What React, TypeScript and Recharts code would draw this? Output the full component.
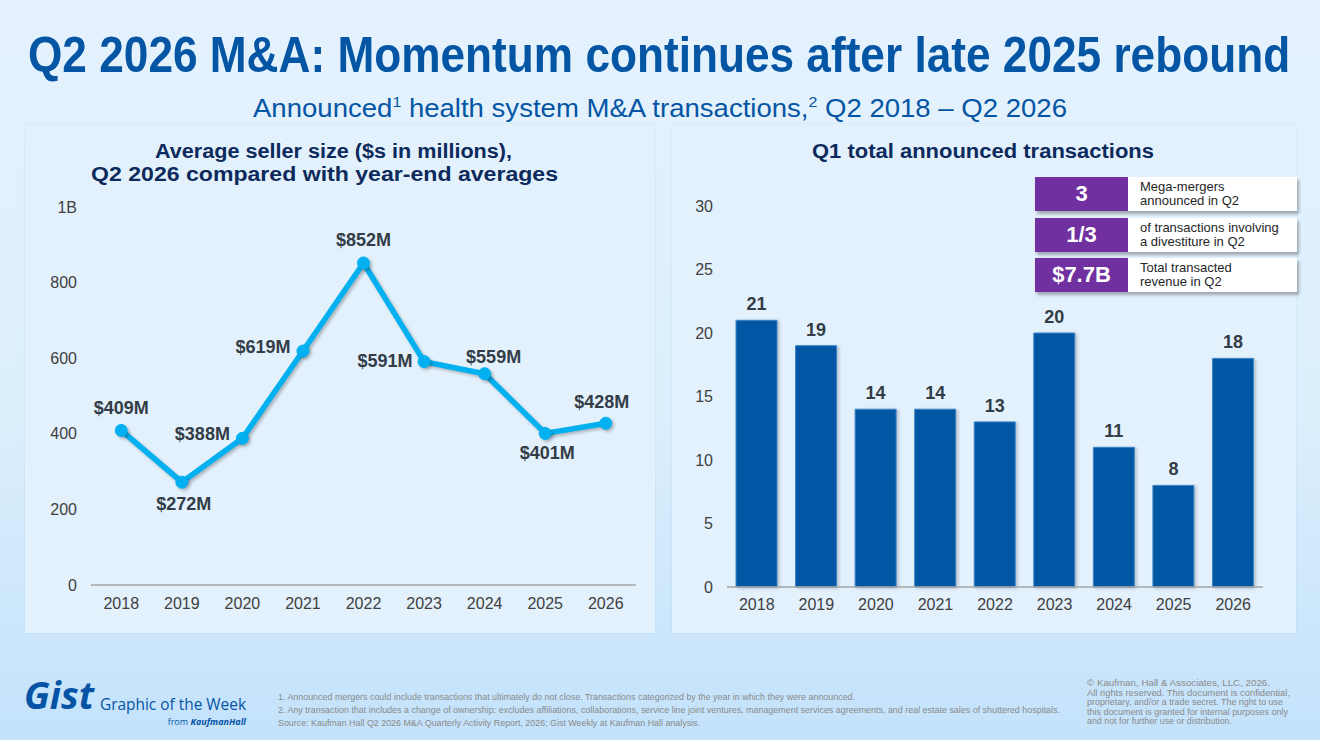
import React from 'react';
import { LineChart, Line, BarChart, Bar, XAxis, YAxis, LabelList } from 'recharts';

const years = ['2018', '2019', '2020', '2021', '2022', '2023', '2024', '2025', '2026'];
const avgSellerSize = [409, 272, 388, 619, 852, 591, 559, 401, 428];
const totalTransactions = [21, 19, 14, 14, 13, 20, 11, 8, 18];
const sizeTicks = [0, 200, 400, 600, 800, 1000];
const countTicks = [0, 5, 10, 15, 20, 25, 30];
const sizeLabelOffsets: [number, number][] = [
  [0, -23], [2, 22], [-40, -5], [-40, -4], [0, -23], [-39, -1], [9, -17], [2, 19], [-4, -22],
];
const statValues = ['3', '1/3', '$7.7B'];
const statLines = [
  ['Mega-mergers', 'announced in Q2'],
  ['of transactions involving', 'a divestiture in Q2'],
  ['Total transacted', 'revenue in Q2'],
];
const footnotes = [
  '1. Announced mergers could include transactions that ultimately do not close. Transactions categorized by the year in which they were announced.',
  '2. Any transaction that includes a change of ownership: excludes affiliations, collaborations, service line joint ventures, management services agreements, and real estate sales of shuttered hospitals.',
  'Source: Kaufman Hall Q2 2026 M&A Quarterly Activity Report, 2026; Gist Weekly at Kaufman Hall analysis.',
];
const copyrightLines = [
  '\u00A9 Kaufman, Hall & Associates, LLC, 2026.',
  'All rights reserved. This document is confidential,',
  'proprietary, and/or a trade secret. The right to use',
  'this document is granted for internal purposes only',
  'and not for further use or distribution.',
];

const sizeData = years.map((y, i) => ({ year: y, value: avgSellerSize[i] }));
const countData = years.map((y, i) => ({ year: y, value: totalTransactions[i] }));

const FONT = '"Liberation Sans", Arial, sans-serif';
const BLUE = '#0455a4';
const NAVY = '#0d2a5c';
const TICK = { fill: '#404040', fontSize: 16, fontFamily: FONT };

const SizeLabel = (props: any) => {
  const { x, y, value, index } = props;
  const off = sizeLabelOffsets[index] || [0, -20];
  return (
    <text
      x={x + off[0]}
      y={y + off[1]}
      dy="0.35em"
      textAnchor="middle"
      fontFamily={FONT}
      fontWeight="bold"
      fontSize={18}
      fill="#333d47"
    >
      {`$${value}M`}
    </text>
  );
};

export default function App() {
  const fx = footnotes;
  return (
    <div style={{ position: 'absolute', left: 0, top: 0, width: 1320, height: 740, overflow: 'hidden', fontFamily: FONT }}>
      <style>{`
        .recharts-line-curve { filter: drop-shadow(2px 2px 1.5px rgba(0,0,0,0.25)); }
        .recharts-line-dots circle { filter: drop-shadow(2px 2px 1.5px rgba(0,0,0,0.25)); }
        .recharts-bar-rectangle path { filter: drop-shadow(2px 1px 1.5px rgba(0,0,0,0.2)); }
      `}</style>
      <div style={{ position: 'absolute', left: 0, top: 0, width: 1320, height: 740, background: 'linear-gradient(180deg, #e5f2fd 0%, #dcEFFC 55%, #c3e2fb 100%)' }} />
      <div style={{ position: 'absolute', left: 25, top: 124, width: 630, height: 509, background: '#e3f1fd', boxShadow: '0 0 2px rgba(120,170,220,0.25)' }} />
      <div style={{ position: 'absolute', left: 672, top: 124, width: 624, height: 509, background: '#e3f1fd', boxShadow: '0 0 2px rgba(120,170,220,0.25)' }} />

      <div
        style={{
          position: 'absolute',
          left: 28,
          top: 30,
          fontSize: 50,
          lineHeight: '50px',
          fontWeight: 'bold',
          color: BLUE,
          whiteSpace: 'nowrap',
          transform: 'scaleX(0.8838)',
          transformOrigin: '0 0',
        }}
      >
        Q2 2026 M&amp;A: Momentum continues after late 2025 rebound
      </div>

      <svg width={1320} height={740} style={{ position: 'absolute', left: 0, top: 0 }}>
        <text x={253} y={117} fontFamily={FONT} fontSize={26} fill={BLUE} textLength={814} lengthAdjust="spacingAndGlyphs">
          Announced<tspan fontSize={15} dy={-10}>1</tspan>
          <tspan dy={10}> health system M&amp;A transactions,</tspan>
          <tspan fontSize={15} dy={-10}>2</tspan>
          <tspan dy={10}> Q2 2018 – Q2 2026</tspan>
        </text>
        <text x={155} y={158} fontFamily={FONT} fontWeight="bold" fontSize={20} fill={NAVY} textLength={357} lengthAdjust="spacingAndGlyphs">
          Average seller size ($s in millions),
        </text>
        <text x={91} y={181} fontFamily={FONT} fontWeight="bold" fontSize={20} fill={NAVY} textLength={467} lengthAdjust="spacingAndGlyphs">
          Q2 2026 compared with year-end averages
        </text>
        <text x={812} y={158} fontFamily={FONT} fontWeight="bold" fontSize={20} fill={NAVY} textLength={342} lengthAdjust="spacingAndGlyphs">
          Q1 total announced transactions
        </text>

        <text x={24} y={709} fontFamily='"Open Sans", sans-serif' fontWeight="bold" fontStyle="italic" fontSize={38} fill="#0553a5" textLength={70} lengthAdjust="spacingAndGlyphs">
          Gist
        </text>
        <text x={100} y={710} fontFamily='"Open Sans", sans-serif' fontSize={16} fill="#0553a5" textLength={146} lengthAdjust="spacingAndGlyphs">
          Graphic of the Week
        </text>
        <text x={246} y={725} textAnchor="end" fontFamily='"Open Sans", sans-serif' fontSize={9} fill="#0553a5">
          from <tspan fontStyle="italic" fontWeight="bold">KaufmanHall</tspan>
        </text>

        <text x={278} y={700} fontFamily={FONT} fontSize={9} fill="#8a8a8a" textLength={577} lengthAdjust="spacingAndGlyphs">{fx[0]}</text>
        <text x={278} y={713} fontFamily={FONT} fontSize={9} fill="#8a8a8a" textLength={782} lengthAdjust="spacingAndGlyphs">{fx[1]}</text>
        <text x={278} y={726} fontFamily={FONT} fontSize={9} fill="#8a8a8a" textLength={422} lengthAdjust="spacingAndGlyphs">{fx[2]}</text>

        {copyrightLines.map((l, i) => (
          <text key={i} x={1087} y={686 + i * 9.6} fontFamily={FONT} fontSize={9.5} fill="#8a8a8a" textLength={[183, 203, 196, 201, 145][i]} lengthAdjust="spacingAndGlyphs">
            {l}
          </text>
        ))}
      </svg>

      <div style={{ position: 'absolute', left: 24, top: 190 }}>
        <LineChart width={631} height={430} data={sizeData} margin={{ top: 17, right: 19, bottom: 0, left: 0 }}>
          <XAxis
            dataKey="year"
            padding={{ left: 30.25, right: 30.25 }}
            axisLine={{ stroke: '#a6a6a6', strokeWidth: 1.5 }}
            tickLine={false}
            tick={TICK}
            tickMargin={7}
            height={35}
            interval={0}
          />
          <YAxis
            type="number"
            domain={[0, 1000]}
            ticks={sizeTicks}
            tickFormatter={(v: number) => (v === 1000 ? '1B' : String(v))}
            axisLine={false}
            tickLine={false}
            tick={TICK}
            tickMargin={8}
            width={67}
          />
          <Line
            dataKey="value"
            stroke="#00b0f0"
            strokeWidth={5.5}
            dot={{ r: 6, fill: '#00b0f0', stroke: '#00b0f0', strokeWidth: 1 }}
            isAnimationActive={false}
          >
            <LabelList dataKey="value" content={SizeLabel} />
          </Line>
        </LineChart>
      </div>

      <div style={{ position: 'absolute', left: 672, top: 190 }}>
        <BarChart width={624} height={430} data={countData} margin={{ top: 16, right: 33, bottom: 0, left: 0 }}>
          <XAxis
            dataKey="year"
            axisLine={{ stroke: '#a6a6a6', strokeWidth: 1.5 }}
            tickLine={false}
            tick={TICK}
            tickMargin={6}
            height={33}
            interval={0}
          />
          <YAxis
            type="number"
            domain={[0, 30]}
            ticks={countTicks}
            axisLine={false}
            tickLine={false}
            tick={TICK}
            tickMargin={8}
            width={55}
          />
          <Bar dataKey="value" fill="#0257a5" stroke="#3d85c8" strokeWidth={1} barSize={41} isAnimationActive={false}>
            <LabelList dataKey="value" position="top" offset={10} style={{ fontFamily: FONT, fontWeight: 'bold', fontSize: 18, fill: '#333d47' }} />
          </Bar>
        </BarChart>
      </div>

      {statValues.map((v, i) => (
        <div
          key={i}
          style={{
            position: 'absolute',
            left: 1035,
            top: [177, 218, 258][i],
            width: 262,
            height: 34,
            display: 'flex',
            background: '#ffffff',
            boxShadow: '2px 3px 3px rgba(0,0,0,0.3)',
          }}
        >
          <div style={{ width: 93, height: 34, background: '#7030a0', color: '#fff', fontWeight: 'bold', fontSize: 22, display: 'flex', alignItems: 'center', justifyContent: 'center' }}>
            {v}
          </div>
          <div style={{ paddingLeft: 12, paddingTop: 3, fontSize: 13, lineHeight: '14px', color: '#262626', whiteSpace: 'nowrap' }}>
            <div>{statLines[i][0]}</div>
            <div>{statLines[i][1]}</div>
          </div>
        </div>
      ))}
    </div>
  );
}
